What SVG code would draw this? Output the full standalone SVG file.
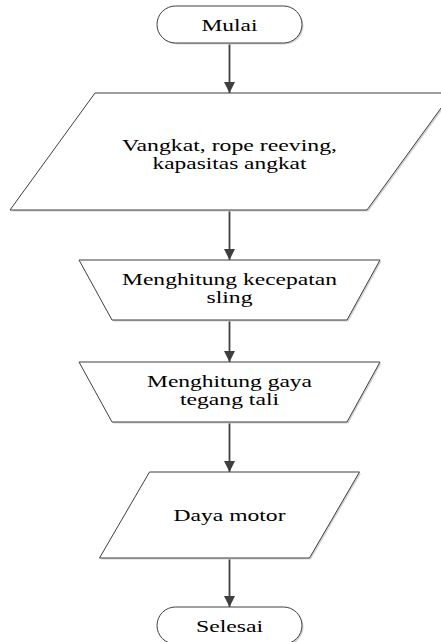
<svg xmlns="http://www.w3.org/2000/svg" width="441" height="642" viewBox="0 0 441 642">
  <style>
    .shape { fill: #ffffff; stroke: #3f3f3f; stroke-width: 1; }
    .shade { fill: #d4d4d4; stroke: none; }
    .label { font-size: 17px; fill: #000000; text-anchor: middle; }
    .flow { fill: none; stroke: #3f3f3f; stroke-width: 1.8; }
  </style>
  <defs>
    <marker id="arrow" markerUnits="userSpaceOnUse" markerWidth="12" markerHeight="12" viewBox="0 0 12 12" refX="11" refY="6" orient="auto">
      <path d="M0,0.5 L11,6 L0,11.5 Z" fill="#3f3f3f"/>
    </marker>
  </defs>
  <rect width="441" height="642" fill="#ffffff"/>

  <!-- connectors -->
  <g id="connectors">
    <line class="flow" x1="229.5" y1="43" x2="229.5" y2="93" marker-end="url(#arrow)"/>
    <line class="flow" x1="229.5" y1="210" x2="229.5" y2="260" marker-end="url(#arrow)"/>
    <line class="flow" x1="229.5" y1="320" x2="229.5" y2="362" marker-end="url(#arrow)"/>
    <line class="flow" x1="229.5" y1="422" x2="229.5" y2="472" marker-end="url(#arrow)"/>
    <line class="flow" x1="229.5" y1="558" x2="229.5" y2="607" marker-end="url(#arrow)"/>
  </g>

  <g font-family="'Liberation Serif', 'DejaVu Serif', serif">
    <!-- start terminator -->
    <g id="start">
      <rect class="shade" x="158.5" y="7.5" width="145" height="37" rx="18.5"/>
      <rect class="shape" x="157" y="6" width="145" height="37" rx="18.5"/>
      <text class="label" x="229.5" y="30.5" textLength="56" lengthAdjust="spacingAndGlyphs">Mulai</text>
    </g>

    <!-- input data -->
    <g id="input">
      <polygon class="shade" points="96.5,94.5 453.5,94.5 368.5,211.5 11.5,211.5"/>
      <polygon class="shape" points="95,93 452,93 367,210 10,210"/>
      <text class="label" x="229.5" y="151" textLength="215" lengthAdjust="spacingAndGlyphs">Vangkat, rope reeving,</text>
      <text class="label" x="229.5" y="169" textLength="154" lengthAdjust="spacingAndGlyphs">kapasitas angkat</text>
    </g>

    <!-- sling speed -->
    <g id="sling-speed">
      <polygon class="shade" points="80.5,261.5 381.5,261.5 348.5,321.5 113.5,321.5"/>
      <polygon class="shape" points="79,260 380,260 347,320 112,320"/>
      <text class="label" x="229.5" y="285" textLength="215" lengthAdjust="spacingAndGlyphs">Menghitung kecepatan</text>
      <text class="label" x="229.5" y="303" textLength="46" lengthAdjust="spacingAndGlyphs">sling</text>
    </g>

    <!-- rope tension -->
    <g id="rope-tension">
      <polygon class="shade" points="80.5,363.5 381.5,363.5 348.5,423.5 113.5,423.5"/>
      <polygon class="shape" points="79,362 380,362 347,422 112,422"/>
      <text class="label" x="229.5" y="387" textLength="165" lengthAdjust="spacingAndGlyphs">Menghitung gaya</text>
      <text class="label" x="229.5" y="405" textLength="99" lengthAdjust="spacingAndGlyphs">tegang tali</text>
    </g>

    <!-- motor power output -->
    <g id="motor-power">
      <polygon class="shade" points="151,473.5 361,473.5 311,559.5 101,559.5"/>
      <polygon class="shape" points="149.5,472 359.5,472 309.5,558 99.5,558"/>
      <text class="label" x="229.5" y="521" textLength="112" lengthAdjust="spacingAndGlyphs">Daya motor</text>
    </g>

    <!-- end terminator -->
    <g id="end">
      <rect class="shade" x="158.5" y="608.5" width="145" height="37" rx="18.5"/>
      <rect class="shape" x="157" y="607" width="145" height="37" rx="18.5"/>
      <text class="label" x="229.5" y="631.5" textLength="67" lengthAdjust="spacingAndGlyphs">Selesai</text>
    </g>
  </g>
</svg>
